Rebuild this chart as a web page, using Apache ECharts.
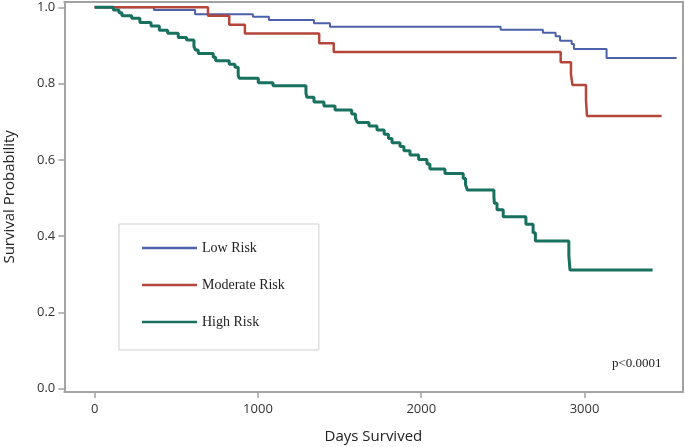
<!DOCTYPE html>
<html>
<head>
<meta charset="utf-8">
<script src="https://cdn.jsdelivr.net/npm/echarts@6/dist/echarts.min.js"></script>
<style>
	html, body { margin: 0; padding: 0; background: #fff; }
	#chart { width: 685px; height: 447px; }
</style>
</head>
<body>
<div id="chart"></div>
<script>
// Kaplan-Meier steps: day of each drop and survival after it
const lowDays = [0, 363, 615, 969, 1067, 1343, 1441, 2486, 2745, 2823, 2850, 2921, 2935, 3135, 3564];
const lowSurv = [1, 0.993, 0.982, 0.975, 0.967, 0.958, 0.949, 0.941, 0.933, 0.924, 0.912, 0.904, 0.891, 0.867, 0.867];

const modDays = [0, 694, 824, 920, 1375, 1464, 2854, 2917, 2926, 3009, 3015, 3472];
const modSurv = [1, 0.978, 0.954, 0.931, 0.906, 0.883, 0.856, 0.825, 0.796, 0.757, 0.715, 0.715];

const highDays = [0, 114, 149, 167, 227, 277, 345, 396, 447, 512,
	563, 608, 618, 634, 726, 741, 824, 859, 879, 885,
	1002, 1092, 1294, 1300, 1343, 1404, 1472, 1574, 1597, 1609,
	1680, 1729, 1773, 1799, 1821, 1870, 1894, 1931, 1984, 2035,
	2053, 2145, 2257, 2271, 2282, 2445, 2448, 2464, 2502, 2641,
	2685, 2699, 2904, 2911, 3417];
const highSurv = [1, 0.993, 0.986, 0.978, 0.971, 0.960, 0.951, 0.940, 0.932, 0.921,
	0.914, 0.897, 0.888, 0.879, 0.869, 0.860, 0.851, 0.843, 0.822, 0.814,
	0.802, 0.794, 0.775, 0.764, 0.752, 0.741, 0.731, 0.720, 0.709, 0.698,
	0.689, 0.678, 0.667, 0.656, 0.645, 0.635, 0.624, 0.613, 0.601, 0.589,
	0.576, 0.564, 0.551, 0.535, 0.521, 0.503, 0.486, 0.469, 0.451, 0.431,
	0.409, 0.387, 0.348, 0.311, 0.311];

const groupNames = ["Low Risk", "Moderate Risk", "High Risk"];
const xTicks = [0, 1000, 2000, 3000];
const yTicks = [0, 0.2, 0.4, 0.6, 0.8, 1.0];

function pairs(xs, ys) {
	return xs.map((x, i) => [x, ys[i]]);
}

const sansFont = "'Open Sans', 'Noto Sans', sans-serif";
const serifFont = "'Liberation Serif', 'DejaVu Serif', serif";
const frameGray = "#a3a3a3";
const xRange = { min: -186, max: 3600 };
const yRange = { min: -0.0087, max: 1.0147 };

const chart = echarts.init(document.getElementById("chart"), null, { renderer: "canvas" });

const series = [
	{ name: groupNames[0], color: "#4d60aa", width: 2, data: pairs(lowDays, lowSurv) },
	{ name: groupNames[1], color: "#b4463c", width: 2.5, data: pairs(modDays, modSurv) },
	{ name: groupNames[2], color: "#18705f", width: 3, data: pairs(highDays, highSurv) },
].map((s) => ({
	name: s.name,
	type: "line",
	step: "end",
	symbol: "none",
	clip: false,
	color: s.color,
	lineStyle: { color: s.color, width: s.width },
	data: s.data,
}));

// plain frame lines for the top and right edges
const frameAxis = (position) => ({
	type: "value",
	position: position,
	axisLine: { show: true, onZero: false, lineStyle: { color: frameGray, width: 2 } },
	axisTick: { show: false },
	axisLabel: { show: false },
	splitLine: { show: false },
});

chart.setOption({
	animation: false,
	backgroundColor: "#fff",
	title: {
		text: "p<0.0001",
		left: 612,
		top: 357,
		padding: 0,
		textStyle: { fontFamily: serifFont, fontSize: 13, fontWeight: "normal", color: "#222" },
	},
	legend: {
		orient: "vertical",
		left: 119,
		top: 224,
		padding: [17, 34, 21, 23],
		borderColor: "#cfcfcf",
		borderWidth: 1,
		icon: "rect",
		itemWidth: 55,
		itemHeight: 2.5,
		itemGap: 23,
		data: groupNames,
		textStyle: { fontFamily: serifFont, fontSize: 14, color: "#222", lineHeight: 14 },
	},
	grid: {
		left: 64.3,
		right: 2.5,
		top: 1.7,
		bottom: 55,
		containLabel: false,
		outerBoundsMode: "none",
	},
	xAxis: [
		{
			type: "value",
			position: "bottom",
			min: xRange.min,
			max: xRange.max,
			name: "Days Survived",
			nameLocation: "middle",
			nameGap: 37,
			nameTextStyle: { fontFamily: sansFont, fontSize: 15, color: "#222" },
			axisLine: { show: true, onZero: false, lineStyle: { color: frameGray, width: 2 } },
			splitLine: { show: false },
			axisTick: { show: true, length: 6, customValues: xTicks, lineStyle: { color: frameGray, width: 1.5 } },
			axisLabel: {
				customValues: xTicks,
				margin: 11,
				fontFamily: sansFont,
				fontSize: 13,
				color: "#333",
				formatter: (v) => String(v),
			},
		},
		Object.assign(frameAxis("top"), xRange),
	],
	yAxis: [
		{
			type: "value",
			position: "left",
			min: yRange.min,
			max: yRange.max,
			name: "Survival Probability",
			nameLocation: "middle",
			nameGap: 47,
			nameTextStyle: { fontFamily: sansFont, fontSize: 15, color: "#222" },
			axisLine: { show: true, onZero: false, lineStyle: { color: frameGray, width: 2 } },
			splitLine: { show: false },
			axisTick: { show: true, length: 6, customValues: yTicks, lineStyle: { color: frameGray, width: 1.5 } },
			axisLabel: {
				customValues: yTicks,
				margin: 9,
				fontFamily: sansFont,
				fontSize: 13,
				color: "#333",
				formatter: (v) => v.toFixed(1),
			},
		},
		Object.assign(frameAxis("right"), yRange),
	],
	series: series,
});
</script>
</body>
</html>
